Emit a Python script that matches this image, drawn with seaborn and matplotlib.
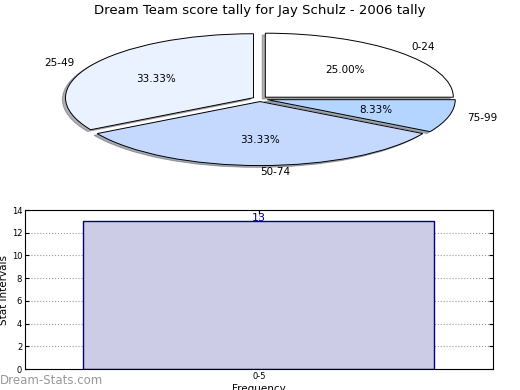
import seaborn as sns
import matplotlib.pyplot as plt
import pandas as pd

# pie data
score_ranges = ["0-24", "25-49", "50-74", "75-99"]
score_counts = [3, 4, 4, 1]
pie_colors = ["#FFFFFF", "#EAF1FF", "#C5D9FF", "#B3D5FF"]

# bar data
bar_labels = ["0-5"]
bar_values = [13]

plt.rcParams["font.family"] = ["DejaVu Sans"]

fig = plt.figure(figsize=(5.2, 3.9), dpi=100)

# --- pie (squashed ellipse) ---
ax_pie = fig.add_axes([0.0, 0.5128, 1.0, 0.4487])
wedges, texts, autotexts = ax_pie.pie(
    score_counts, labels=score_ranges, colors=pie_colors,
    explode=[0.04] * 4, shadow={"ox": -0.012, "oy": -0.02, "shade": 0.6},
    autopct="%.2f%%",
    wedgeprops=dict(edgecolor="black", linewidth=0.7),
    textprops=dict(fontsize=7.5),
)
ax_pie.set_aspect("auto")
ax_pie.set_xlim(-1.383, 1.383)
ax_pie.set_ylim(-1.422, 1.3125)
ax_pie.set_axis_off()
fig.text(0.5, 0.973, "Dream Team score tally for Jay Schulz - 2006 tally",
         ha="center", va="center", fontsize=9.5)

# --- bar ---
ax = fig.add_axes([0.048, 0.0538, 0.9, 0.4077])
df = pd.DataFrame({"interval": bar_labels, "count": bar_values})
sns.barplot(data=df, x="interval", y="count", ax=ax, width=0.75,
            color="#CCCCE6", edgecolor="#000080", linewidth=1, saturation=1)
ax.set_xlim(-0.5, 0.5)
ax.set_ylim(0, 14)
ax.set_yticks(range(0, 15, 2))
ax.grid(True, linestyle=":", color="#999999", linewidth=0.8)
ax.set_axisbelow(True)
ax.tick_params(labelsize=6, direction="in", length=3, top=True, right=True, pad=2)
for s in ax.spines.values():
    s.set_linewidth(0.8)
for p, v in zip(ax.patches, bar_values):
    ax.text(p.get_x() + p.get_width() / 2, p.get_height() - 0.1, str(v),
            ha="center", va="bottom", fontsize=8, color="#000090")
ax.set_xlabel("Frequency", fontsize=7.5, labelpad=2)
ax.set_ylabel("Stat Intervals", fontsize=7.5, labelpad=2)

fig.text(0.0, 0.025, "Dream-Stats.com", ha="left", va="center",
         fontsize=8.5, color="#999999")

fig.savefig("out.png", dpi=100)
plt.close(fig)
